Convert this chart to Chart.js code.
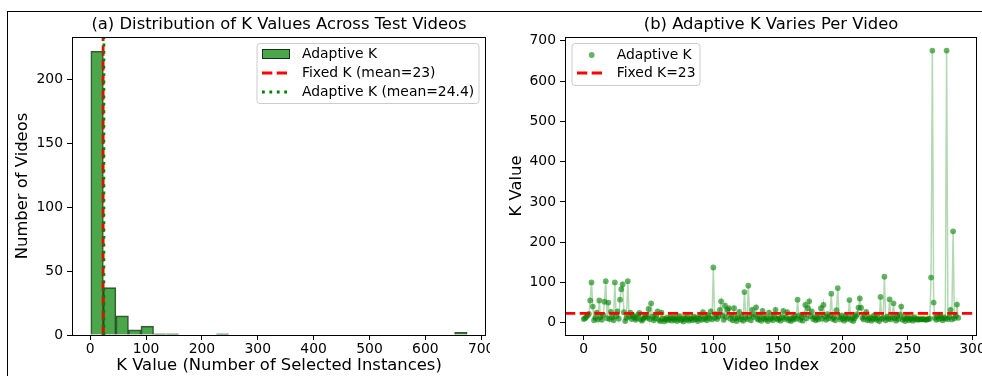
<!DOCTYPE html>
<html><head><meta charset="utf-8">
<script src="https://cdn.jsdelivr.net/npm/chart.js@4.4.0/dist/chart.umd.min.js"></script>
<style>
html,body{margin:0;padding:0;background:#fff;width:982px;height:376px;overflow:hidden;}
#c1{position:absolute;left:0;top:0;}
#c2{position:absolute;left:490px;top:0;}
#frame{position:absolute;left:7px;top:11px;width:1000px;height:400px;border-left:1px solid #000;border-top:1px solid #000;pointer-events:none;}
</style></head><body>
<canvas id="c1" width="490" height="376"></canvas>
<canvas id="c2" width="492" height="376"></canvas>
<div id="frame"></div>
<script>
const FONT = "'DejaVu Sans', sans-serif";

// ---- data ----
const histCounts = [222,37,15,4,7,1,1,0,0,0,1,0,0,0,0,0,0,0,0,0,0,0,0,0,0,0,0,0,0,2];
const binRange = [1, 675];
const fixedK = 23;
const adaptiveMean = 24.4;
const histXTicks = [0,100,200,300,400,500,600,700];
const histYTicks = [0,50,100,150,200];

const kValues = [
  9,11,14,18,22,55,100,40,6,12,
  25,8,55,14,7,19,52,103,11,50,
  9,27,13,6,100,16,28,10,57,83,
  95,26,4,12,103,15,25,9,18,13,
  7,11,20,24,8,5,10,14,17,12,
  34,9,48,15,6,11,19,28,7,4,
  25,10,3,8,12,6,9,14,5,11,
  7,13,4,9,16,6,10,3,12,8,
  14,5,9,11,6,15,8,12,4,10,
  17,7,26,9,13,6,18,11,28,8,
  137,12,21,9,15,32,53,18,7,42,
  14,32,36,10,19,6,36,11,4,13,
  27,8,15,5,76,12,9,92,17,6,
  32,14,20,38,10,7,16,5,29,11,
  8,13,4,25,9,12,6,15,32,10,
  7,11,5,14,29,9,13,26,6,10,
  4,12,8,15,10,57,18,7,13,5,
  20,44,11,36,53,16,28,9,14,6,
  12,8,19,36,10,44,15,7,21,11,
  17,72,9,13,6,31,86,14,8,18,
  10,5,15,9,12,56,7,13,4,11,
  16,21,37,60,37,12,8,15,27,6,
  10,13,5,9,18,11,7,14,4,64,
  9,12,114,6,15,10,58,8,13,48,
  11,5,16,9,20,40,7,12,4,10,
  14,6,9,11,5,13,8,10,7,9,
  8,8,9,8,7,8,9,10,112,676,
  50,12,7,15,9,18,11,6,13,10,
  676,9,14,32,8,227,11,16,45,12
];
const scatterXTicks = [0,50,100,150,200,250,300];
const scatterYTicks = [0,100,200,300,400,500,600,700];

const titleA = '(a) Distribution of K Values Across Test Videos';
const titleB = '(b) Adaptive K Varies Per Video';
const xLabelA = 'K Value (Number of Selected Instances)';
const yLabelA = 'Number of Videos';
const xLabelB = 'Video Index';
const yLabelB = 'K Value';
const legendA = ['Adaptive K', 'Fixed K (mean=23)', 'Adaptive K (mean=24.4)'];
const legendB = ['Adaptive K', 'Fixed K=23'];

// ---- derived ----
const nBins = histCounts.length;
const binW = (binRange[1] - binRange[0]) / nBins;
const histData = histCounts.map((c, i) => ({x: binRange[0] + (i + 0.5) * binW, y: c}));
const histXMin = binRange[0] - 0.05 * (binRange[1] - binRange[0]);
const histXMax = binRange[1] + 0.05 * (binRange[1] - binRange[0]);
const histYMax = Math.max(...histCounts) * 1.05;

const kPts = kValues.map((v, i) => ({x: i, y: v}));
const kMin = Math.min(...kValues), kMax = Math.max(...kValues);
const sXMin = -0.05 * (kValues.length - 1), sXMax = (kValues.length - 1) * 1.05;
const sYMin = kMin - 0.05 * (kMax - kMin), sYMax = kMax + 0.05 * (kMax - kMin);

Chart.defaults.font.family = FONT;
Chart.defaults.color = '#000';

const DASH = [10.3, 4.4];
const DOT = [2.8, 4.6];
const LW = 2.8;

function decor(key, title, legendBox, drawLegend) {
  return {
    id: 'decor' + key,
    afterDraw(chart) {
      const ctx = chart.ctx, ca = chart.chartArea;
      ctx.save();
      ctx.strokeStyle = '#000'; ctx.lineWidth = 1;
      const l = Math.round(ca.left), t = Math.round(ca.top), r = Math.round(ca.right), b = Math.round(ca.bottom);
      ctx.strokeRect(l + 0.5, t + 0.5, r - l - 1, b - t);
      ctx.fillStyle = '#000';
      ctx.font = '16.4px ' + FONT;
      ctx.textAlign = 'center'; ctx.textBaseline = 'middle';
      ctx.fillText(title, (ca.left + ca.right) / 2, 25);
      // legend frame
      const [x0, y0, x1, y1] = legendBox;
      const rr = 3;
      ctx.beginPath();
      ctx.moveTo(x0 + rr, y0); ctx.lineTo(x1 - rr, y0); ctx.arcTo(x1, y0, x1, y0 + rr, rr);
      ctx.lineTo(x1, y1 - rr); ctx.arcTo(x1, y1, x1 - rr, y1, rr);
      ctx.lineTo(x0 + rr, y1); ctx.arcTo(x0, y1, x0, y1 - rr, rr);
      ctx.lineTo(x0, y0 + rr); ctx.arcTo(x0, y0, x0 + rr, y0, rr);
      ctx.closePath();
      ctx.fillStyle = 'rgba(255,255,255,0.8)'; ctx.fill();
      ctx.strokeStyle = '#cccccc'; ctx.lineWidth = 1; ctx.stroke();
      ctx.font = '13.9px ' + FONT;
      ctx.textAlign = 'left'; ctx.textBaseline = 'middle';
      drawLegend(ctx);
      ctx.restore();
    }
  };
}

function hline(ctx, x0, x1, y, color, dash) {
  ctx.save();
  ctx.strokeStyle = color; ctx.lineWidth = LW; ctx.setLineDash(dash);
  ctx.beginPath(); ctx.moveTo(x0, y); ctx.lineTo(x1, y); ctx.stroke();
  ctx.restore();
}

function fixTicks(arr) {
  return (scale) => { scale.ticks = arr.map(v => ({value: v})); };
}
function fitX(h) {
  return (scale) => { scale.height = h; scale.paddingLeft = 0; scale.paddingRight = 0; };
}
function fitY(w) {
  return (scale) => { scale.width = w; scale.paddingTop = 0; scale.paddingBottom = 0; };
}

const tickFont = {size: 13.9, family: FONT};
const labFont = {size: 16.4, family: FONT};
const gridCfg = {drawOnChartArea: false, drawTicks: true, tickLength: 5, tickColor: '#000', tickWidth: 1};

// ---- chart (a) ----
new Chart(document.getElementById('c1'), {
  type: 'bar',
  data: {
    datasets: [
      {type: 'line', data: [{x: adaptiveMean, y: 0}, {x: adaptiveMean, y: histYMax}], borderColor: 'green',
       borderWidth: LW, borderDash: DOT, pointRadius: 0, order: 0},
      {type: 'line', data: [{x: fixedK, y: 0}, {x: fixedK, y: histYMax}], borderColor: 'red',
       borderWidth: LW, borderDash: DASH, pointRadius: 0, order: 1},
      {type: 'bar', data: histData, backgroundColor: 'rgba(0,128,0,0.7)', borderColor: 'rgba(0,0,0,0.7)',
       borderWidth: 1, barPercentage: 1, categoryPercentage: 1, order: 2}
    ]
  },
  options: {
    responsive: false, animation: false,
    layout: {padding: {left: 0, right: 4, top: 37, bottom: 0}},
    plugins: {legend: {display: false}, tooltip: {enabled: false}},
    scales: {
      x: {type: 'linear', min: histXMin, max: histXMax, offset: false,
          grid: Object.assign({offset: false}, gridCfg), border: {display: false},
          ticks: {font: tickFont, padding: 1, maxRotation: 0, autoSkip: false},
          title: {display: true, text: xLabelA, font: labFont, padding: {top: 0, bottom: 0}},
          afterBuildTicks: fixTicks(histXTicks), afterFit: fitX(41)},
      y: {type: 'linear', min: 0, max: histYMax,
          grid: gridCfg, border: {display: false},
          ticks: {font: tickFont, padding: 4},
          title: {display: true, text: yLabelA, font: labFont, padding: {top: 13, bottom: 0}},
          afterBuildTicks: fixTicks(histYTicks), afterFit: fitY(72)}
    }
  },
  plugins: [decor('a', titleA, [257, 43.5, 479, 103.5], (ctx) => {
    ctx.fillStyle = 'rgba(0,128,0,0.7)'; ctx.fillRect(262, 49, 28, 10);
    ctx.strokeStyle = 'rgba(0,0,0,0.7)'; ctx.lineWidth = 1; ctx.strokeRect(262.5, 49.5, 27, 9);
    hline(ctx, 262, 290, 73, 'red', DASH);
    hline(ctx, 262, 290, 92, 'green', DOT);
    ctx.fillStyle = '#000';
    ctx.fillText(legendA[0], 302, 54);
    ctx.fillText(legendA[1], 302, 73);
    ctx.fillText(legendA[2], 302, 92);
  })]
});

// ---- chart (b) ----
new Chart(document.getElementById('c2'), {
  type: 'line',
  data: {
    datasets: [
      {data: [{x: sXMin, y: fixedK}, {x: sXMax, y: fixedK}], borderColor: 'red', borderWidth: LW,
       borderDash: DASH, pointRadius: 0, fill: false, order: 0},
      {data: kPts, showLine: false, pointRadius: 2.9, pointBackgroundColor: 'rgba(0,128,0,0.6)',
       pointBorderWidth: 0, fill: false, order: 1},
      {data: kPts, borderColor: 'rgba(0,128,0,0.3)', borderWidth: 1.5, pointRadius: 0,
       fill: {target: {value: fixedK}, above: 'rgba(0,0,0,0)', below: 'rgba(255,165,0,0.3)'}, order: 2}
    ]
  },
  options: {
    responsive: false, animation: false,
    layout: {padding: {left: 0, right: 5, top: 37, bottom: 0}},
    plugins: {legend: {display: false}, tooltip: {enabled: false}},
    scales: {
      x: {type: 'linear', min: sXMin, max: sXMax, offset: false,
          grid: gridCfg, border: {display: false},
          ticks: {font: tickFont, padding: 1, maxRotation: 0, autoSkip: false},
          title: {display: true, text: xLabelB, font: labFont, padding: {top: 0, bottom: 0}},
          afterBuildTicks: fixTicks(scatterXTicks), afterFit: fitX(41)},
      y: {type: 'linear', min: sYMin, max: sYMax,
          grid: gridCfg, border: {display: false},
          ticks: {font: tickFont, padding: 4},
          title: {display: true, text: yLabelB, font: labFont, padding: {top: 17, bottom: 0}},
          afterBuildTicks: fixTicks(scatterYTicks), afterFit: fitY(75)}
    }
  },
  plugins: [decor('b', titleB, [82, 43.5, 210, 85.5], (ctx) => {
    ctx.fillStyle = 'rgba(0,128,0,0.6)';
    ctx.beginPath(); ctx.arc(101.7, 55, 2.9, 0, Math.PI * 2); ctx.fill();
    hline(ctx, 87, 115, 73, 'red', DASH);
    ctx.fillStyle = '#000';
    ctx.fillText(legendB[0], 126.7, 55);
    ctx.fillText(legendB[1], 126.7, 73);
  })]
});
</script>
</body></html>
